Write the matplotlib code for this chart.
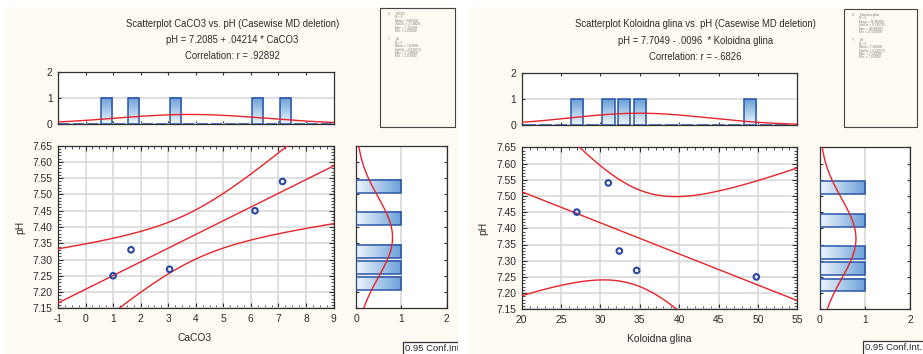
import matplotlib
matplotlib.use("Agg")
import matplotlib.pyplot as plt
import numpy as np
from matplotlib.colors import LinearSegmentedColormap
from matplotlib.patches import Rectangle
from matplotlib.ticker import MultipleLocator, AutoMinorLocator, FormatStrFormatter, NullFormatter
from matplotlib.transforms import Bbox, TransformedBbox

# ---------------------------------------------------------
# Podaci (5 uzoraka)
# ---------------------------------------------------------
ph = [7.25, 7.33, 7.27, 7.45, 7.54]
caco3 = [1.00, 1.65, 3.05, 6.15, 7.15]

ph_glina = [7.45, 7.54, 7.33, 7.27, 7.25]
koloidna_glina = [27.0, 31.0, 32.4, 34.6, 49.8]

# regresija pH = a + b * x i korelacija
coef_caco3 = (7.2085, 0.04214)
coef_glina = (7.7049, -0.0096)
r_caco3 = 0.92892
r_glina = -0.6826

T_975_DF3 = 3.182446  # Studentov t, 95 %, 3 stupnja slobode

W, H = 923, 354

plt.rcParams.update({
    "font.family": ["Liberation Sans", "DejaVu Sans"],
    "font.size": 7.4,
    "axes.linewidth": 0.8,
    "axes.unicode_minus": False,
})

BG = "#fffaf2"
SPINE = "#303030"
GRID = "#dcdcdc"
RED = "#e8232a"
BLUE = "#2a48a0"
BAR_EDGE = "#2b56a8"
TXT = "#2a2a2a"
BAR_CMAP = LinearSegmentedColormap.from_list("bar", ["#eef6fd", "#6a9fd8"])


def px_axes(fig, x0, y0, x1, y1):
    ax = fig.add_axes([x0 / W, 1 - y1 / H, (x1 - x0) / W, (y1 - y0) / H])
    ax.set_zorder(5)
    return ax


def fig_xy(x, y):
    return x / W, 1 - y / H


def stat_str(v):
    return str(v).replace("0.", ".", 1)


def spines(ax):
    for s in ax.spines.values():
        s.set_color(SPINE)
        s.set_linewidth(0.9)


def gradient_bar(ax, x0, x1, y0, y1, vertical):
    if vertical:
        grad = np.linspace(0, 1, 64).reshape(-1, 1)
    else:
        grad = np.linspace(0, 1, 64).reshape(1, -1)
    if x1 > x0 and y1 > y0:
        ax.imshow(grad, extent=(x0, x1, y0, y1), origin="lower", cmap=BAR_CMAP,
                  aspect="auto", interpolation="bilinear", zorder=2)
    ax.add_patch(Rectangle((x0, y0), x1 - x0, y1 - y0, fill=False,
                           edgecolor=BAR_EDGE, linewidth=1.1, zorder=3))


def counts_right(values, edges):
    idx = np.digitize(values, edges, right=True)
    return np.array([np.sum(idx == i) for i in range(1, len(edges))])


def conf_band(x, y, coef, xs):
    x = np.asarray(x)
    y = np.asarray(y)
    n = len(x)
    fit = coef[0] + coef[1] * x
    s = np.sqrt(np.sum((y - fit) ** 2) / (n - 2))
    sxx = np.sum((x - x.mean()) ** 2)
    yhat = coef[0] + coef[1] * xs
    half = T_975_DF3 * s * np.sqrt(1.0 / n + (xs - x.mean()) ** 2 / sxx)
    return yhat, yhat - half, yhat + half


def normal_curve(values, bin_w, grid):
    v = np.asarray(values)
    m, sd = v.mean(), v.std(ddof=1)
    return len(v) * bin_w / (sd * np.sqrt(2 * np.pi)) * np.exp(-0.5 * ((grid - m) / sd) ** 2)


def stats_lines(name, values):
    v = np.asarray(values)
    return [
        name,
        f"N = {len(v)}",
        f"Mean = {v.mean():.6f}",
        f"Std.Dv. = {v.std(ddof=1):.6f}",
        f"Max. = {v.max():.6f}",
        f"Min. = {v.min():.6f}",
    ]


def draw_panel(fig, L, x, y, xname, coef, r, xlim, xstep, xminor, xbin):
    ylim = (7.15, 7.65)
    ybin = 0.05

    # pozadina panela
    fig.patches.append(Rectangle(fig_xy(L["bg"][0], L["bg"][3]),
                                 (L["bg"][2] - L["bg"][0]) / W, (L["bg"][3] - L["bg"][1]) / H,
                                 transform=fig.transFigure, facecolor=BG, edgecolor="none", zorder=0))

    # naslov
    sign = "+" if coef[1] >= 0 else "-"
    sp = " " if coef[1] >= 0 else "  "
    titles = [
        f"Scatterplot {xname} vs. pH (Casewise MD deletion)",
        f"pH = {coef[0]} {sign} {stat_str(abs(coef[1]))}{sp}* {xname}",
        f"Correlation: r = {stat_str(r)}",
    ]
    for t, ty in zip(titles, L["title_y"]):
        fig.text(*fig_xy(L["title_x"], ty), t, ha="center", va="center", fontsize=6.85, color=TXT)

    # dijagram rasipanja
    ax = px_axes(fig, *L["scatter"])
    ax.set_facecolor("white")
    xs = np.linspace(xlim[0], xlim[1], 400)
    yhat, lo, hi = conf_band(x, y, coef, xs)
    ax.plot(xs, yhat, color=RED, linewidth=1.0, zorder=3)
    ax.plot(xs, lo, color=RED, linewidth=1.0, zorder=3)
    ax.plot(xs, hi, color=RED, linewidth=1.0, zorder=3)
    ax.scatter(x, y, s=16, facecolors="none", edgecolors=BLUE, linewidths=1.5, zorder=4)
    ax.set_xlim(xlim)
    ax.set_ylim(ylim)
    ax.xaxis.set_major_locator(MultipleLocator(xstep))
    ax.xaxis.set_minor_locator(MultipleLocator(xminor))
    ax.yaxis.set_major_locator(MultipleLocator(0.05))
    ax.yaxis.set_minor_locator(AutoMinorLocator(5))
    ax.yaxis.set_major_formatter(FormatStrFormatter("%.2f"))
    ax.tick_params(which="both", direction="in", top=True, right=True, colors=SPINE,
                   labelcolor=TXT, labelsize=7.4)
    ax.tick_params(which="major", length=3.5, pad=4)
    ax.tick_params(which="minor", length=2)
    ax.grid(True, which="major", color=GRID, linewidth=1.3)
    ax.set_axisbelow(True)
    spines(ax)

    fig.text(*fig_xy(L["xlabel"][0], L["xlabel"][1]), xname, ha="center", va="center",
             fontsize=7.4, color=TXT)
    fig.text(*fig_xy(L["ylabel"][0], L["ylabel"][1]), "pH", ha="center", va="center",
             rotation=90, fontsize=7.4, color=TXT)

    # histogram x (gore)
    axt = px_axes(fig, *L["top"])
    axt.set_facecolor("white")
    edges = np.round(np.arange(xlim[0], xlim[1] + xbin / 2, xbin), 6)
    cnt = counts_right(x, edges)
    for e0, e1, c in zip(edges[:-1], edges[1:], cnt):
        w = (e1 - e0) * 0.8
        c0 = (e0 + e1) / 2 - w / 2
        gradient_bar(axt, c0, c0 + w, 0, c, vertical=True)
    gx = np.linspace(xlim[0], xlim[1], 300)
    axt.plot(gx, normal_curve(x, xbin, gx), color=RED, linewidth=1.0, zorder=4)
    axt.set_xlim(xlim)
    axt.set_ylim(0, 2)
    axt.set_yticks([0, 1, 2])
    axt.xaxis.set_major_locator(MultipleLocator(xstep))
    axt.xaxis.set_major_formatter(NullFormatter())
    axt.tick_params(axis="x", direction="in", top=True, length=2.5, colors=SPINE)
    axt.tick_params(axis="y", direction="in", length=2.5, colors=SPINE, labelcolor=TXT,
                    labelsize=7.4, pad=4)
    axt.grid(True, axis="y", color=GRID, linewidth=1.3)
    axt.set_axisbelow(True)
    spines(axt)

    # histogram pH (desno)
    axr = px_axes(fig, *L["right"])
    axr.set_facecolor("white")
    yedges = np.round(np.arange(ylim[0], ylim[1] + ybin / 2, ybin), 6)
    ycnt = counts_right(y, yedges)
    for e0, e1, c in zip(yedges[:-1], yedges[1:], ycnt):
        if c == 0:
            continue
        h = (e1 - e0) * 0.8
        c0 = (e0 + e1) / 2 - h / 2
        gradient_bar(axr, 0, c, c0, c0 + h, vertical=False)
    gy = np.linspace(ylim[0], ylim[1], 300)
    axr.plot(normal_curve(y, ybin, gy), gy, color=RED, linewidth=1.0, zorder=4)
    axr.set_xlim(0, 2)
    axr.set_ylim(ylim)
    axr.set_xticks([0, 1, 2])
    axr.yaxis.set_major_locator(MultipleLocator(0.05))
    axr.yaxis.set_major_formatter(NullFormatter())
    axr.tick_params(axis="y", direction="in", right=True, length=2.5, colors=SPINE)
    axr.tick_params(axis="x", direction="in", length=2.5, colors=SPINE, labelcolor=TXT,
                    labelsize=7.4, pad=4)
    axr.grid(True, axis="x", color=GRID, linewidth=1.3)
    axr.set_axisbelow(True)
    spines(axr)

    # okvir sa statistikom
    bx0, by0, bx1, by1 = L["box"]
    fig.patches.append(Rectangle(fig_xy(bx0 + 1.2, by1 + 1.2), (bx1 - bx0) / W, (by1 - by0) / H,
                                 transform=fig.transFigure, facecolor="#8a8a8a", edgecolor="none", zorder=1))
    fig.patches.append(Rectangle(fig_xy(bx0, by1), (bx1 - bx0) / W, (by1 - by0) / H,
                                 transform=fig.transFigure, facecolor=BG, edgecolor="#444444",
                                 linewidth=0.8, zorder=2))
    ty = by0 + 6
    for block_label, lines in (("X:", stats_lines(xname, x)), ("Y:", stats_lines("pH", y))):
        fig.text(*fig_xy(bx0 + 8, ty), block_label, fontsize=2.2, color="#777777", va="center")
        fig.text(*fig_xy(bx0 + 16, ty), lines[0], fontsize=2.2, color="#777777", va="center")
        ty += 3.4
        for ln in lines[1:]:
            fig.text(*fig_xy(bx0 + 15, ty), ln, fontsize=2.2, color="#777777", va="center")
            ty += 3.4
        ty += 5

    # oznaka intervala pouzdanosti
    cx0, cy0, cx1 = L["conf"]
    clip = TransformedBbox(Bbox([fig_xy(cx0 - 1, H), fig_xy(L["bg"][2], cy0 - 1)]), fig.transFigure)
    rect = Rectangle(fig_xy(cx0, H + 4), (cx1 - cx0) / W, (H + 4 - cy0) / H,
                     transform=fig.transFigure, facecolor="white", edgecolor="#333333",
                     linewidth=0.9, zorder=6)
    rect.set_clip_box(clip)
    fig.patches.append(rect)
    t = fig.text(*fig_xy(cx0 + 2, cy0 + 6.5), "0.95 Conf.Int.", fontsize=6.8, color=TXT,
                 va="center", zorder=7)
    t.set_clip_box(clip)
    t.set_clip_on(True)


fig = plt.figure(figsize=(W / 100, H / 100), dpi=100)
fig.patch.set_facecolor("white")

layout_left = {
    "bg": (5, 7, 458, H),
    "title_x": 232.5, "title_y": (24, 40, 56),
    "top": (58, 71.7, 333.5, 124),
    "scatter": (58, 145.7, 333.5, 308.3),
    "right": (356, 145.7, 446.7, 308.3),
    "box": (380, 8, 455, 127),
    "xlabel": (195, 338), "ylabel": (20, 227),
    "conf": (403, 342, 470),
}
layout_right = {
    "bg": (468, 7, W, H),
    "title_x": 695.5, "title_y": (24, 41, 57),
    "top": (521.7, 73.3, 797.3, 125),
    "scatter": (521.7, 147.3, 797.3, 309.3),
    "right": (819.5, 147.3, 910, 309.3),
    "box": (844, 9, 917, 127),
    "xlabel": (659, 339), "ylabel": (483, 228),
    "conf": (863, 341, 930),
}

draw_panel(fig, layout_left, caco3, ph, "CaCO3", coef_caco3, r_caco3,
           xlim=(-1, 9), xstep=1, xminor=0.25, xbin=0.5)
draw_panel(fig, layout_right, koloidna_glina, ph_glina, "Koloidna glina", coef_glina, r_glina,
           xlim=(20, 55), xstep=5, xminor=1, xbin=2)

fig.savefig("out.png", dpi=100, facecolor=fig.get_facecolor())
